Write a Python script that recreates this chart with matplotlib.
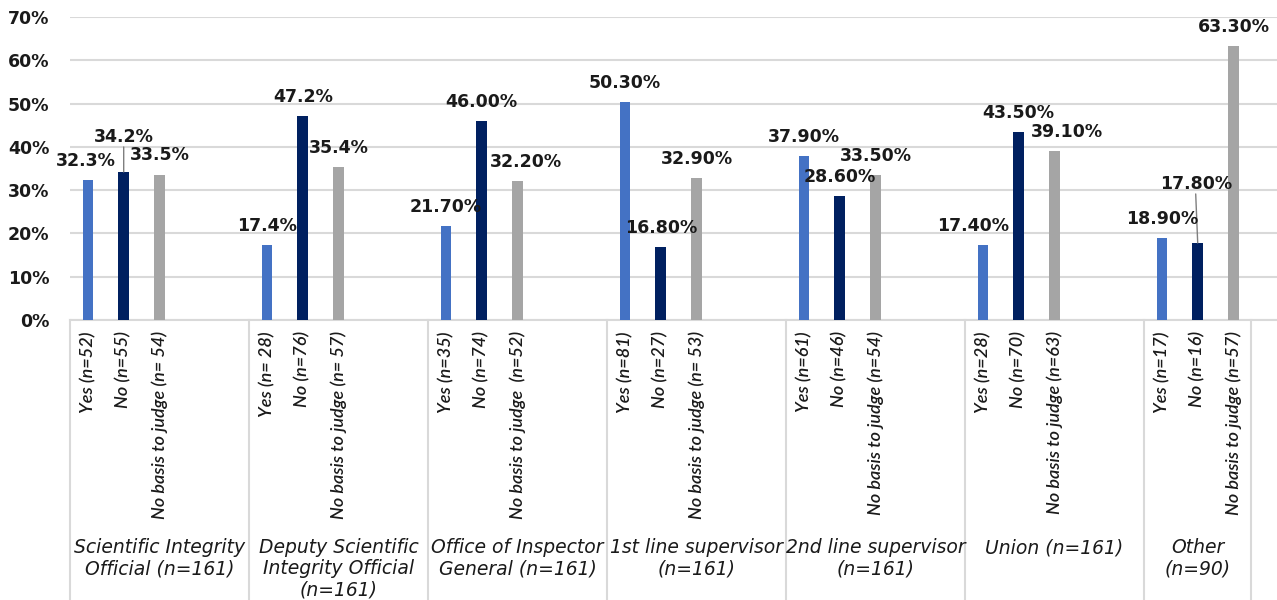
import matplotlib
matplotlib.use("Agg")
import matplotlib.pyplot as plt
import matplotlib.transforms as mtransforms

# ---- data ----
groups = ["Scientific Integrity\nOfficial (n=161)",
          "Deputy Scientific\nIntegrity Official\n(n=161)",
          "Office of Inspector\nGeneral (n=161)",
          "1st line supervisor\n(n=161)",
          "2nd line supervisor\n(n=161)",
          "Union (n=161)",
          "Other\n(n=90)"]
yes_vals = [32.3, 17.4, 21.7, 50.3, 37.9, 17.4, 18.9]
no_vals = [34.2, 47.2, 46.0, 16.8, 28.6, 43.5, 17.8]
nb_vals = [33.5, 35.4, 32.2, 32.9, 33.5, 39.1, 63.3]
yes_text = ["32.3%", "17.4%", "21.70%", "50.30%", "37.90%", "17.40%", "18.90%"]
no_text = ["34.2%", "47.2%", "46.00%", "16.80%", "28.60%", "43.50%", "17.80%"]
nb_text = ["33.5%", "35.4%", "32.20%", "32.90%", "33.50%", "39.10%", "63.30%"]
yes_ticks = ["Yes (n=52)", "Yes (n= 28)", "Yes (n=35)", "Yes (n=81)", "Yes (n=61)", "Yes (n=28)", "Yes (n=17)"]
no_ticks = ["No (n=55)", "No (n=76)", "No (n=74)", "No (n=27)", "No (n=46)", "No (n=70)", "No (n=16)"]
nb_ticks = ["No basis to judge (n= 54)", "No basis to judge (n= 57)", "No basis to judge  (n=52)",
            "No basis to judge (n= 53)", "No basis to judge (n=54)", "No basis to judge (n=63)",
            "No basis to judge (n=57)"]
y_ticks = [0, 10, 20, 30, 40, 50, 60, 70]

# ---- layout / style ----
colors = ["#4472C4", "#002060", "#A5A5A5"]
slots_per_group = 5
bar_w = 0.3
# label offsets in pixels (dx, dy) from bar top, per (series, group)
offsets = {(0, 0): (-2, 19), (1, 0): (0, 35), (2, 0): (0, 20),
           (2, 2): (8, 19), (0, 5): (-10, 19), (2, 5): (12, 19),
           (1, 6): (-2, 59)}
leaders = {(1, 0), (1, 6)}

tick_font = ["Lato", "DejaVu Sans"]
group_font = ["DejaVu Sans"]
bold_font = ["DejaVu Sans"]
txt_col = "#1a1a1a"
grid_col = "#D9D9D9"

fig = plt.figure(figsize=(12.77, 6.0), dpi=100)
ax_left, ax_bottom = 70 / 1277, 1 - 320 / 600
ax_top = 1 - 17 / 600
ax = fig.add_axes([ax_left, ax_bottom, 1 - ax_left, ax_top - ax_bottom])

slot_px = 35.8
x_right = (1277 - 70) / slot_px - 0.5
ax.set_xlim(-0.5, x_right)
ax.set_ylim(0, 70)

series_vals = [yes_vals, no_vals, nb_vals]
series_text = [yes_text, no_text, nb_text]
series_ticks = [yes_ticks, no_ticks, nb_ticks]

tick_pos, tick_lab = [], []
for s in range(3):
    xs = [g * slots_per_group + s for g in range(len(groups))]
    ax.bar(xs, series_vals[s], width=bar_w, color=colors[s], zorder=3)
    for g, (x, v) in enumerate(zip(xs, series_vals[s])):
        dx, dy = offsets.get((s, g), (0, 19))
        ax.annotate(series_text[s][g], xy=(x, v), xytext=(dx, dy),
                    textcoords="offset pixels", ha="center", va="center",
                    fontsize=12.5, fontweight="bold", family=bold_font,
                    color=txt_col, zorder=5)
        if (s, g) in leaders:
            ax.annotate("", xy=(x, v), xytext=(dx, dy - 10),
                        textcoords="offset pixels",
                        arrowprops=dict(arrowstyle="-", color="#7f7f7f", lw=1,
                                        shrinkA=0, shrinkB=0), zorder=4)
    tick_pos += xs
    tick_lab += series_ticks[s]

ax.set_xticks(tick_pos)
ax.set_xticklabels(tick_lab, rotation=90, fontsize=13, family=tick_font,
                   style="italic", fontweight="semibold", color=txt_col,
                   va="top", ha="center")
ax.tick_params(axis="x", length=0, pad=8)

ax.set_yticks(y_ticks)
ax.set_yticklabels([f"{t}%" for t in y_ticks], fontsize=12.5, fontweight="bold",
                   family=bold_font, color=txt_col)
ax.tick_params(axis="y", length=0, pad=15)
ax.grid(axis="y", color=grid_col, lw=1.5, zorder=0)
for sp in ["top", "right", "left"]:
    ax.spines[sp].set_visible(False)
ax.spines["bottom"].set_color(grid_col)
ax.spines["bottom"].set_linewidth(1.5)

# category dividers extending below the axis
trans = mtransforms.blended_transform_factory(ax.transData, fig.transFigure)
dividers = [g * slots_per_group - 0.5 for g in range(len(groups))] + \
           [(len(groups) - 1) * slots_per_group + 3 - 0.5]
for d in dividers:
    ax.plot([d, d], [0, ax_bottom], transform=trans, color=grid_col, lw=1.5,
            clip_on=False, zorder=1)

# group labels
group_centers = [g * slots_per_group + 2 for g in range(len(groups) - 1)] + \
                [(len(groups) - 1) * slots_per_group + 1]
for c, lab in zip(group_centers, groups):
    ax.text(c, 1 - 538 / 600, lab, transform=trans, ha="center", va="top",
            fontsize=13.5, family=group_font, style="italic", color=txt_col,
            linespacing=1.15)

fig.savefig("out.png", dpi=100)
